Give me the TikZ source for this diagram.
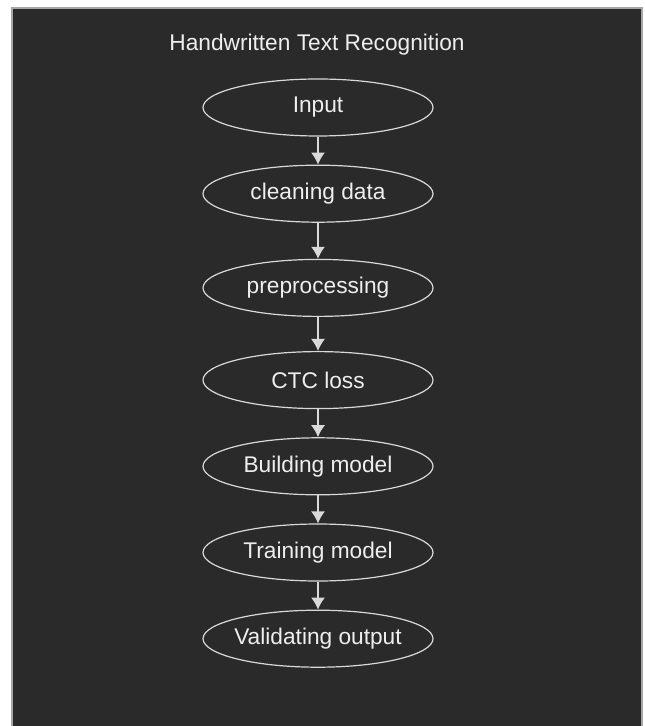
\documentclass[tikz,border=0pt]{standalone}
\usepackage{fontspec}
\setmainfont{Liberation Sans}
\usetikzlibrary{shapes.geometric,arrows.meta,positioning}
\definecolor{panel}{HTML}{2A2A2A}
\definecolor{strokegray}{HTML}{D9D9D9}
\definecolor{textgray}{HTML}{EEEEEE}

\begin{document}
\begin{tikzpicture}[x=0.5pt, y=-0.5pt, node distance=14pt, auto]
        \tikzstyle{block} = [ellipse, draw=strokegray, line width=0.6pt, text=textgray, minimum width=115pt, minimum height=28.5pt, inner xsep=-3pt, inner ysep=0pt, font=\fontsize{11.35}{13.6}\selectfont]
        \tikzstyle{line} = [draw=strokegray, line width=0.7pt, -{Latex[length=6pt,width=7pt]}]

        \useasboundingbox (0,0) rectangle (644,726);
        \fill [white] (0,0) rectangle (644,726);
        \draw [fill=panel, draw=gray!70, line width=1pt] (12,8) rectangle (642,730);

        \node [text=textgray, font=\fontsize{11.35}{13.6}\selectfont] (title) at (317,45) {Handwritten Text Recognition};
        \node [block] (input) at (318,107.5) {Input};
        \node [block, below=of input] (cleaning) {cleaning data};
        \node [block, below=18pt of cleaning] (prep) {preprocessing};
        \node [block, below=17pt of prep] (ctc) {CTC loss};
        \node [block, below=of ctc] (building) {Building model};
        \node [block, below=of building] (training) {Training model};
        \node [block, below=of training] (validating) {Validating output};

        \path [line] (input) -- (cleaning);
        \path [line] (cleaning) -- (prep);
        \path [line] (prep) -- (ctc);
        \path [line] (ctc) -- (building);
        \path [line] (building) -- (training);
        \path [line] (training) -- (validating);
    \end{tikzpicture}
\end{document}
